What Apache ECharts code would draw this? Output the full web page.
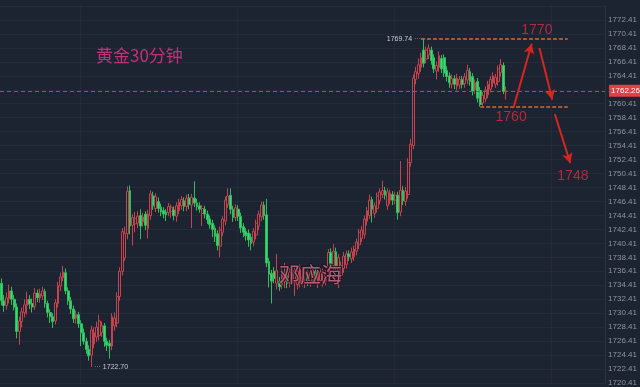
<!DOCTYPE html>
<html>
<head>
<meta charset="utf-8">
<script src="https://cdn.jsdelivr.net/npm/echarts@6/dist/echarts.min.js"></script>
<style>
  html, body { margin: 0; padding: 0; background: #1c2331; }
  #chart { width: 640px; height: 387px; }
</style>
</head>
<body>
<div id="chart"></div>
<script>
// Gold, 30-minute candles
const open = [
  1734.7,1732.2,1731.5,1732.5,1733.6,1732.4,1731.3,1727.8,1729.2,1730.5,
  1731.5,1732.4,1731.8,1731.4,1733.3,1732.6,1732.9,1733.5,1731.8,1730.5,
  1729.9,1729.3,1731.8,1734.3,1735.5,1736.2,1733.6,1732.2,1731.0,1729.7,
  1730.2,1728.9,1727.6,1726.4,1725.2,1724.4,1726.0,1727.0,1727.2,1727.6,
  1728.6,1726.4,1726.1,1725.7,1728.6,1729.0,1732.8,1736.4,1738.3,1741.8,
  1748.0,1743.0,1743.2,1743.3,1744.4,1743.5,1744.6,1742.5,1744.4,1747.2,
  1745.4,1746.4,1745.6,1745.1,1744.9,1744.8,1745.0,1745.2,1744.3,1745.1,
  1745.8,1746.5,1745.7,1746.9,1745.9,1746.9,1746.2,1745.8,1744.7,1745.3,
  1744.6,1743.9,1743.3,1742.6,1741.8,1740.0,1742.0,1743.6,1746.0,1747.3,
  1745.3,1744.1,1745.3,1744.3,1742.8,1742.1,1741.9,1741.3,1740.6,1741.6,
  1742.9,1744.2,1745.9,1744.5,1737.8,1736.1,1736.4,1734.7,1735.0,1734.5,
  1734.9,1735.8,1734.8,1736.2,1734.8,1734.5,1734.7,1734.9,1734.8,1736.0,
  1734.9,1735.2,1736.4,1734.8,1735.1,1734.9,1735.0,1736.5,1739.1,1737.2,
  1739.2,1736.5,1735.8,1736.8,1737.4,1738.9,1738.2,1738.5,1739.3,1740.2,
  1741.1,1741.7,1743.6,1744.4,1746.7,1744.7,1745.4,1746.5,1747.4,1748.0,
  1745.8,1746.6,1747.4,1746.6,1747.3,1744.9,1748.0,1746.4,1747.4,1752.0,
  1754.4,1763.9,1764.7,1765.6,1768.1,1766.8,1767.4,1768.1,1767.0,1765.1,
  1765.6,1766.9,1767.0,1765.2,1764.4,1763.2,1764.0,1762.9,1763.1,1763.9,
  1763.3,1763.8,1765.0,1764.3,1762.4,1763.6,1762.3,1760.5,1761.1,1761.7,
  1762.5,1763.4,1763.2,1763.6,1764.9,1765.9,1762.1
];
const close = [
  1732.2,1731.5,1732.6,1733.6,1732.4,1731.3,1727.8,1729.3,1730.6,1731.6,
  1732.4,1731.7,1731.3,1733.3,1732.6,1733.2,1733.6,1731.8,1730.5,1729.9,
  1729.2,1731.9,1734.4,1735.6,1736.3,1733.6,1732.2,1731.0,1729.6,1730.2,
  1728.9,1727.6,1726.4,1725.2,1724.3,1728.0,1727.6,1728.4,1729.3,1728.6,
  1726.4,1725.8,1725.7,1729.9,1729.7,1732.8,1736.4,1742.1,1741.8,1747.9,
  1742.9,1744.1,1744.0,1744.3,1742.9,1744.2,1743.0,1744.6,1747.5,1745.8,
  1747.1,1745.4,1744.9,1744.6,1744.5,1745.7,1745.6,1744.4,1745.8,1746.3,
  1746.7,1745.7,1746.9,1746.0,1747.0,1746.2,1745.7,1745.3,1745.4,1744.6,
  1743.8,1743.1,1742.4,1741.4,1740.1,1742.3,1743.9,1746.6,1747.2,1745.3,
  1744.1,1745.5,1744.3,1742.6,1742.0,1741.5,1740.9,1740.4,1742.1,1743.3,
  1744.6,1745.9,1744.4,1737.6,1736.0,1735.0,1735.4,1736.5,1734.2,1736.4,
  1735.9,1734.7,1736.3,1735.3,1736.5,1736.4,1736.7,1735.6,1736.1,1735.1,
  1736.2,1736.6,1735.3,1736.5,1736.3,1736.2,1736.0,1739.1,1737.5,1739.3,
  1737.2,1738.4,1737.2,1738.6,1738.9,1738.5,1739.2,1739.6,1740.6,1742.0,
  1742.3,1743.9,1745.1,1746.6,1745.3,1745.8,1747.2,1747.8,1748.0,1747.3,
  1747.8,1747.6,1746.6,1747.3,1744.8,1748.0,1746.5,1747.9,1752.0,1754.6,
  1764.1,1765.0,1766.0,1767.0,1766.2,1768.1,1768.4,1766.6,1765.4,1765.9,
  1767.3,1765.4,1764.8,1764.3,1763.4,1764.0,1763.2,1764.1,1763.9,1763.2,
  1764.3,1765.2,1763.6,1762.2,1763.4,1761.2,1760.3,1761.6,1762.4,1763.2,
  1763.9,1764.4,1764.2,1765.4,1766.0,1762.2,1762.26
];
const low = [
  1731.5,1730.6,1730.9,1731.8,1731.6,1730.8,1726.8,1725.9,1728.4,1729.8,
  1730.2,1731.0,1730.5,1730.9,1732.0,1731.9,1732.3,1731.2,1729.8,1729.0,
  1728.3,1728.8,1731.2,1733.6,1735.0,1733.1,1731.6,1730.3,1729.0,1728.9,
  1728.3,1725.7,1725.9,1724.6,1723.6,1722.7,1725.4,1726.3,1726.5,1727.0,
  1725.6,1725.0,1723.9,1725.1,1727.9,1728.4,1732.2,1735.8,1737.9,1741.0,
  1741.7,1740.1,1742.0,1742.6,1741.0,1742.8,1742.3,1741.1,1743.8,1745.2,
  1744.9,1744.8,1744.3,1744.0,1743.6,1744.3,1744.1,1743.7,1743.5,1744.6,
  1745.2,1745.0,1745.0,1745.3,1742.6,1745.6,1745.1,1744.8,1742.9,1744.0,
  1743.2,1742.5,1741.3,1740.6,1739.4,1738.4,1741.5,1743.0,1745.5,1744.6,
  1743.5,1743.6,1743.6,1741.9,1741.3,1740.8,1739.9,1739.4,1740.0,1741.0,
  1742.3,1743.6,1743.8,1737.0,1734.1,1731.8,1734.7,1733.8,1733.6,1733.9,
  1734.0,1734.0,1734.1,1734.6,1732.9,1733.8,1734.1,1734.2,1734.0,1734.3,
  1734.2,1734.6,1734.7,1734.0,1734.5,1734.2,1734.4,1736.0,1736.9,1736.6,
  1736.6,1734.0,1735.2,1736.2,1736.8,1737.9,1737.6,1737.9,1738.7,1739.6,
  1740.6,1741.1,1743.0,1743.9,1743.4,1744.1,1744.8,1746.0,1746.9,1746.7,
  1745.2,1746.0,1745.9,1746.0,1743.8,1744.3,1745.9,1745.8,1746.8,1751.4,
  1753.9,1763.2,1764.0,1765.0,1765.6,1766.2,1766.8,1766.0,1764.8,1763.9,
  1765.0,1764.8,1764.2,1763.6,1762.7,1762.6,1762.5,1762.3,1762.5,1762.6,
  1762.7,1763.2,1763.0,1761.6,1761.8,1760.6,1760.0,1760.1,1760.6,1761.2,
  1762.0,1762.8,1762.7,1763.0,1764.3,1761.8,1761.0
];
const high = [
  1735.4,1733.0,1733.4,1734.5,1734.2,1733.0,1731.8,1729.9,1731.2,1732.4,
  1733.5,1733.0,1732.5,1734.0,1733.8,1733.9,1734.2,1733.9,1732.2,1731.0,
  1730.4,1732.4,1734.9,1736.2,1737.2,1736.8,1734.1,1732.7,1731.5,1730.8,
  1730.6,1729.4,1728.2,1726.9,1725.8,1728.6,1728.4,1729.2,1730.2,1729.2,
  1729.0,1726.9,1726.6,1730.4,1730.5,1733.4,1737.0,1742.6,1742.8,1748.6,
  1748.7,1744.6,1744.9,1745.0,1745.3,1744.8,1745.0,1745.2,1748.0,1747.8,
  1747.6,1747.0,1746.1,1745.6,1745.3,1746.2,1746.0,1745.7,1746.3,1746.8,
  1747.2,1747.0,1747.4,1747.5,1747.5,1749.3,1746.8,1746.3,1745.9,1745.8,
  1745.1,1744.4,1743.8,1743.0,1742.3,1742.8,1744.3,1747.1,1748.3,1748.3,
  1745.8,1746.0,1745.9,1744.8,1743.3,1742.6,1742.4,1741.8,1742.6,1743.8,
  1745.1,1746.4,1746.4,1746.8,1738.3,1736.6,1737.0,1738.9,1735.6,1737.0,
  1737.6,1736.4,1736.9,1736.8,1737.0,1737.1,1737.4,1736.5,1736.8,1736.6,
  1736.9,1737.2,1737.0,1737.1,1736.9,1736.8,1736.6,1739.6,1739.7,1740.3,
  1739.8,1738.9,1737.8,1739.2,1739.4,1739.4,1739.8,1740.1,1741.1,1742.5,
  1742.9,1744.4,1745.6,1747.4,1747.1,1746.3,1747.7,1748.3,1749.4,1748.5,
  1748.3,1748.1,1747.9,1747.8,1747.8,1752.2,1748.6,1748.5,1752.6,1755.4,
  1764.6,1765.7,1766.9,1767.7,1769.74,1768.6,1768.9,1768.6,1767.5,1766.5,
  1767.9,1767.4,1767.5,1765.8,1764.9,1764.6,1764.5,1764.7,1764.4,1764.4,
  1764.8,1766.0,1765.5,1764.8,1763.9,1764.1,1762.8,1762.1,1762.9,1763.7,
  1764.4,1764.9,1764.7,1765.9,1766.8,1766.3,1762.9
];

// Price-axis ticks
const tickStart = 1720.41;
const tickStep = 2;
const tickTop = 1774.41;

// Key levels for the plan drawn on the right
const resistance = 1769.74;
const support = 1760.0;
const targets = ['1770', '1760', '1748'];
const lastPrice = close[close.length - 1];

// Empty slots after the last bar leave room for the projection
const slotCount = 235;
const slots = Array.from({ length: slotCount }, (_, i) => i);

const candles = open.map((o, i) => [o, close[i], low[i], high[i]]);
const hiVal = Math.max(...high);
const loVal = Math.min(...low);
const hiIdx = high.indexOf(hiVal);
const loIdx = low.indexOf(loVal);

const arrowRed = '#d9251f';
const levelOrange = '#d2693e';
const noteRed = '#b32a3c';

function arrow(x1, y1, x2, y2) {
  const ls = { color: arrowRed, width: 2, type: 'solid' };
  return [
    { coord: [x1, y1], symbol: 'none', lineStyle: ls },
    { coord: [x2, y2], symbol: 'arrow', symbolSize: [8, 10], lineStyle: ls }
  ];
}
function level(x1, x2, v) {
  const ls = { color: levelOrange, width: 1.5, type: [4, 2] };
  return [
    { coord: [x1, v], symbol: 'none', lineStyle: ls },
    { coord: [x2, v], symbol: 'none', lineStyle: ls }
  ];
}
function note(x, v, text, dy) {
  return {
    coord: [x, v], symbol: 'circle', symbolSize: 1,
    itemStyle: { color: 'rgba(0,0,0,0)' },
    label: {
      show: true, position: 'inside', offset: [0, dy], formatter: text,
      color: noteRed, fontSize: 14, fontFamily: 'Liberation Sans'
    }
  };
}

const chart = echarts.init(document.getElementById('chart'), null, { renderer: 'canvas' });
chart.setOption({
  backgroundColor: '#1c2331',
  animation: false,
  title: {
    text: '黄金30分钟', left: 91, top: 42,
    textStyle: { color: '#c2317a', fontSize: 17, fontWeight: 'normal', fontFamily: 'Noto Sans CJK SC' }
  },
  grid: { left: 0, right: 30, top: 6, bottom: 2, containLabel: false },
  xAxis: {
    type: 'category', data: slots, boundaryGap: true,
    axisLine: { show: false }, axisTick: { show: false }, axisLabel: { show: false },
    splitLine: {
      show: true,
      interval: (i) => (i - 31) % 61 === 0,
      lineStyle: { color: 'rgba(255,255,255,0.03)', width: 1 }
    }
  },
  yAxis: {
    type: 'value', position: 'right', scale: true,
    min: tickStart, max: tickTop, interval: tickStep,
    axisLine: { show: true, lineStyle: { color: '#2b3342', width: 1 } },
    axisTick: { show: false },
    axisLabel: {
      color: '#8e959f', fontSize: 8, margin: 3, showMaxLabel: false,
      fontFamily: 'Liberation Sans',
      formatter: (v) => v.toFixed(2)
    },
    splitLine: { show: true, lineStyle: { color: 'rgba(255,255,255,0.035)', width: 1 } }
  },
  graphic: [{
    type: 'text', left: 278, top: 263, silent: true, z: 100,
    style: {
      text: '邓应海', fontSize: 21, fontFamily: 'Noto Sans CJK SC',
      fill: 'rgba(222,108,140,0.8)', stroke: 'rgba(22,18,28,0.75)', lineWidth: 2
    }
  }],
  series: [{
    type: 'candlestick',
    data: candles,
    barWidth: 2.3,
    itemStyle: {
      color: 'rgba(0,0,0,0)', borderColor: '#c4434c',
      color0: '#38d96e', borderColor0: '#2fbd5f', borderWidth: 1
    },
    markPoint: {
      silent: true,
      data: [
        {
          coord: [hiIdx, hiVal], symbol: 'circle', symbolSize: 1,
          itemStyle: { color: 'rgba(0,0,0,0)' },
          label: {
            show: true, position: 'left', distance: 2,
            formatter: '{v|' + hiVal.toFixed(2) + '}{d| ···}',
            rich: {
              v: { color: '#c9cdd3', fontSize: 7, fontFamily: 'Liberation Sans' },
              d: { color: '#8a9099', fontSize: 7 }
            }
          }
        },
        {
          coord: [loIdx, loVal], symbol: 'circle', symbolSize: 1,
          itemStyle: { color: 'rgba(0,0,0,0)' },
          label: {
            show: true, position: 'right', distance: 2,
            formatter: '{d|··· }{v|' + loVal.toFixed(2) + '}',
            rich: {
              v: { color: '#c9cdd3', fontSize: 7, fontFamily: 'Liberation Sans' },
              d: { color: '#8a9099', fontSize: 7 }
            }
          }
        },
        note(208, 1770.41, targets[0], -4),
        note(198, support, targets[1], 11),
        note(222, 1748.0, targets[2], -14)
      ]
    },
    markLine: {
      silent: true,
      symbol: ['none', 'none'],
      label: { show: false },
      data: [
        {
          yAxis: lastPrice,
          lineStyle: { color: '#b5474f', width: 1, type: [4, 3] },
          label: {
            show: true, position: 'end', distance: 4,
            formatter: lastPrice.toFixed(2),
            backgroundColor: '#e23f48', color: '#ffffff',
            fontSize: 8, padding: [2, 2], fontFamily: 'Liberation Sans'
          }
        },
        level(hiIdx - 1, 220, resistance),
        level(186, 220, support),
        arrow(199, 1759.9, 206, 1769.0),
        arrow(209, 1768.4, 214, 1761.0),
        arrow(215, 1758.9, 221, 1751.9)
      ]
    }
  }]
});
</script>
</body>
</html>
